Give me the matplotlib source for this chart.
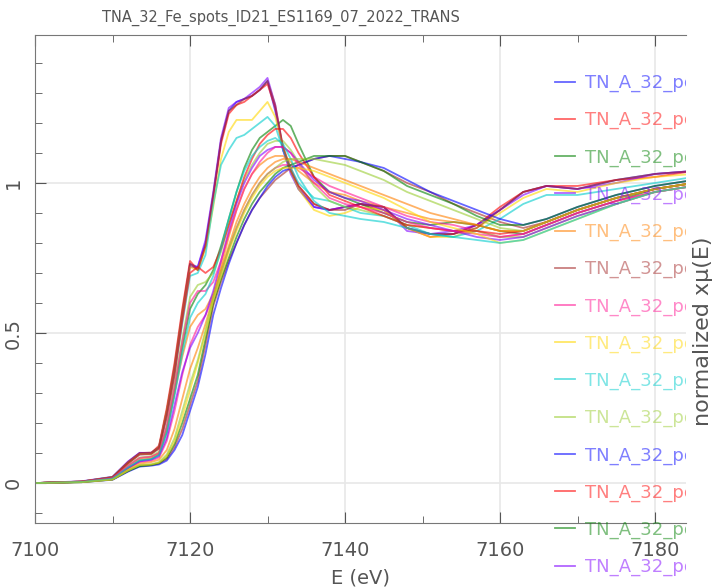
import matplotlib
matplotlib.use("Agg")
import matplotlib.pyplot as plt
from matplotlib.ticker import MultipleLocator, FuncFormatter
from matplotlib.transforms import Bbox, TransformedBbox

# energy grid (eV) and normalized spectra
energy = [7100, 7106, 7110, 7112, 7113.5, 7115, 7116, 7117, 7118, 7119,
          7120, 7121, 7122, 7123, 7124, 7125, 7126, 7127, 7128, 7129,
          7130, 7131, 7132, 7133, 7134, 7136, 7138, 7140, 7142, 7145,
          7148, 7151, 7154, 7157, 7160, 7163, 7166, 7170, 7175, 7180,
          7185]

red_a = [0.0, 0.005, 0.02, 0.07, 0.10, 0.10, 0.12, 0.24, 0.38, 0.56,
         0.73, 0.72, 0.80, 0.96, 1.14, 1.24, 1.27, 1.28, 1.29, 1.31,
         1.34, 1.24, 1.11, 1.04, 0.98, 0.92, 0.91, 0.92, 0.93, 0.92,
         0.85, 0.83, 0.83, 0.86, 0.91, 0.97, 0.99, 0.98, 1.01, 1.03,
         1.04]
red_b = [0.0, 0.004, 0.018, 0.065, 0.098, 0.10, 0.125, 0.25, 0.40, 0.58,
         0.74, 0.71, 0.79, 0.95, 1.13, 1.23, 1.26, 1.27, 1.29, 1.31,
         1.33, 1.25, 1.12, 1.05, 0.99, 0.93, 0.91, 0.92, 0.93, 0.91,
         0.85, 0.82, 0.83, 0.86, 0.92, 0.97, 0.99, 0.99, 1.01, 1.02,
         1.04]
mid_green = [0.0, 0.004, 0.015, 0.05, 0.075, 0.08, 0.095, 0.17, 0.30, 0.45,
             0.58, 0.63, 0.66, 0.71, 0.79, 0.88, 0.97, 1.05, 1.11, 1.15,
             1.17, 1.19, 1.21, 1.19, 1.13, 1.02, 0.97, 0.95, 0.93, 0.90,
             0.87, 0.86, 0.87, 0.86, 0.84, 0.83, 0.86, 0.90, 0.94, 0.98,
             1.00]
red_c = [0.0, 0.006, 0.021, 0.072, 0.101, 0.10, 0.118, 0.23, 0.37, 0.55,
         0.72, 0.72, 0.81, 0.97, 1.15, 1.25, 1.27, 1.28, 1.30, 1.32,
         1.35, 1.26, 1.11, 1.03, 0.98, 0.92, 0.91, 0.92, 0.93, 0.92,
         0.84, 0.83, 0.84, 0.86, 0.91, 0.96, 0.99, 0.98, 1.00, 1.03,
         1.04]
mid_orange = [0.0, 0.004, 0.016, 0.055, 0.08, 0.085, 0.10, 0.18, 0.30, 0.42,
              0.52, 0.56, 0.58, 0.63, 0.72, 0.82, 0.91, 0.98, 1.03, 1.06,
              1.08, 1.09, 1.09, 1.07, 1.04, 1.00, 0.97, 0.96, 0.94, 0.92,
              0.90, 0.88, 0.87, 0.86, 0.84, 0.84, 0.87, 0.91, 0.95, 0.98,
              1.00]
late_a = [0.0, 0.004, 0.012, 0.04, 0.058, 0.06, 0.065, 0.08, 0.12, 0.18,
          0.26, 0.34, 0.46, 0.59, 0.67, 0.74, 0.80, 0.86, 0.91, 0.95,
          0.98, 1.01, 1.03, 1.05, 1.06, 1.08, 1.09, 1.09, 1.07, 1.04,
          1.00, 0.97, 0.93, 0.90, 0.87, 0.85, 0.87, 0.91, 0.95, 0.98,
          1.00]
mid_pink = [0.0, 0.004, 0.014, 0.05, 0.07, 0.075, 0.085, 0.14, 0.24, 0.36,
            0.46, 0.52, 0.56, 0.62, 0.70, 0.78, 0.85, 0.91, 0.96, 1.00,
            1.03, 1.05, 1.06, 1.06, 1.05, 1.02, 0.99, 0.97, 0.95, 0.92,
            0.89, 0.87, 0.86, 0.84, 0.82, 0.83, 0.86, 0.90, 0.94, 0.97,
            0.99]
red_yellow = [0.0, 0.005, 0.02, 0.068, 0.097, 0.098, 0.12, 0.24, 0.38, 0.56,
              0.72, 0.71, 0.78, 0.92, 1.08, 1.17, 1.21, 1.21, 1.21, 1.24,
              1.27, 1.22, 1.12, 1.04, 0.98, 0.91, 0.89, 0.90, 0.92, 0.91,
              0.85, 0.82, 0.82, 0.85, 0.90, 0.95, 0.98, 0.97, 1.00, 1.02,
              1.03]
red_cyan = [0.0, 0.005, 0.02, 0.066, 0.095, 0.097, 0.115, 0.22, 0.36, 0.53,
            0.69, 0.70, 0.76, 0.93, 1.06, 1.11, 1.15, 1.16, 1.18, 1.20,
            1.22, 1.19, 1.11, 1.05, 1.00, 0.95, 0.94, 0.92, 0.90, 0.89,
            0.86, 0.83, 0.82, 0.84, 0.88, 0.93, 0.96, 0.96, 0.98, 1.00,
            1.02]
mid_olive = [0.0, 0.005, 0.017, 0.06, 0.085, 0.09, 0.105, 0.19, 0.33, 0.48,
             0.62, 0.66, 0.67, 0.70, 0.77, 0.86, 0.94, 1.01, 1.06, 1.10,
             1.13, 1.14, 1.14, 1.11, 1.07, 0.99, 0.94, 0.92, 0.91, 0.89,
             0.86, 0.85, 0.84, 0.84, 0.82, 0.82, 0.85, 0.89, 0.93, 0.97,
             0.99]
late_b = [0.0, 0.003, 0.011, 0.038, 0.055, 0.058, 0.062, 0.075, 0.11, 0.16,
          0.24, 0.32, 0.43, 0.56, 0.65, 0.73, 0.80, 0.86, 0.91, 0.95,
          0.99, 1.02, 1.04, 1.05, 1.06, 1.08, 1.09, 1.08, 1.07, 1.05,
          1.01, 0.97, 0.94, 0.91, 0.88, 0.86, 0.88, 0.92, 0.96, 0.99,
          1.01]
mid_red = [0.0, 0.005, 0.019, 0.066, 0.095, 0.097, 0.115, 0.22, 0.36, 0.54,
           0.70, 0.72, 0.70, 0.72, 0.78, 0.86, 0.94, 1.02, 1.08, 1.13,
           1.16, 1.18, 1.18, 1.15, 1.10, 1.02, 0.96, 0.94, 0.92, 0.89,
           0.86, 0.85, 0.84, 0.84, 0.83, 0.84, 0.87, 0.91, 0.95, 0.98,
           1.00]
late_c = [0.0, 0.003, 0.012, 0.04, 0.056, 0.06, 0.066, 0.085, 0.13, 0.20,
          0.28, 0.36, 0.48, 0.60, 0.68, 0.75, 0.82, 0.88, 0.93, 0.97,
          1.00, 1.03, 1.05, 1.06, 1.07, 1.09, 1.09, 1.09, 1.07, 1.04,
          0.99, 0.96, 0.93, 0.89, 0.86, 0.86, 0.88, 0.92, 0.96, 0.99,
          1.01]
mid_purple = [0.0, 0.004, 0.014, 0.05, 0.072, 0.078, 0.09, 0.15, 0.26, 0.37,
              0.45, 0.50, 0.56, 0.64, 0.74, 0.84, 0.93, 1.00, 1.05, 1.09,
              1.11, 1.12, 1.12, 1.10, 1.07, 1.01, 0.97, 0.95, 0.94, 0.91,
              0.88, 0.86, 0.84, 0.82, 0.81, 0.82, 0.85, 0.89, 0.93, 0.97,
              0.99]
late_d = [0.0, 0.004, 0.013, 0.045, 0.065, 0.07, 0.078, 0.11, 0.18, 0.28,
          0.38, 0.45, 0.53, 0.62, 0.71, 0.79, 0.87, 0.93, 0.98, 1.02,
          1.05, 1.07, 1.08, 1.08, 1.07, 1.05, 1.03, 1.01, 0.99, 0.96,
          0.93, 0.90, 0.88, 0.86, 0.84, 0.84, 0.87, 0.91, 0.95, 0.98,
          1.00]
red_d = [0.0, 0.005, 0.02, 0.07, 0.10, 0.102, 0.12, 0.24, 0.39, 0.57,
         0.73, 0.71, 0.79, 0.96, 1.14, 1.24, 1.26, 1.28, 1.29, 1.31,
         1.34, 1.26, 1.12, 1.04, 0.99, 0.93, 0.91, 0.91, 0.93, 0.92,
         0.85, 0.83, 0.83, 0.85, 0.91, 0.97, 0.99, 0.98, 1.01, 1.03,
         1.04]
mid_b = [0.0, 0.005, 0.017, 0.058, 0.084, 0.088, 0.10, 0.19, 0.32, 0.47,
         0.60, 0.64, 0.64, 0.67, 0.74, 0.83, 0.91, 0.98, 1.03, 1.07,
         1.10, 1.12, 1.12, 1.10, 1.06, 1.00, 0.95, 0.93, 0.92, 0.90,
         0.87, 0.85, 0.84, 0.83, 0.82, 0.83, 0.86, 0.90, 0.94, 0.97,
         0.99]
late_e = [0.0, 0.003, 0.012, 0.042, 0.06, 0.062, 0.068, 0.09, 0.14, 0.22,
          0.31, 0.40, 0.50, 0.61, 0.69, 0.77, 0.84, 0.90, 0.95, 0.99,
          1.02, 1.04, 1.05, 1.05, 1.05, 1.04, 1.02, 1.00, 0.98, 0.95,
          0.91, 0.87, 0.85, 0.83, 0.80, 0.81, 0.84, 0.88, 0.93, 0.97,
          0.99]
mid_c = [0.0, 0.004, 0.015, 0.052, 0.076, 0.08, 0.093, 0.17, 0.29, 0.43,
         0.55, 0.60, 0.63, 0.69, 0.78, 0.88, 0.97, 1.04, 1.09, 1.12,
         1.14, 1.15, 1.13, 1.08, 1.02, 0.94, 0.90, 0.89, 0.88, 0.87,
         0.85, 0.83, 0.82, 0.81, 0.80, 0.81, 0.84, 0.88, 0.93, 0.97,
         0.99]
late_f = [0.0, 0.003, 0.012, 0.042, 0.06, 0.063, 0.07, 0.095, 0.15, 0.24,
          0.33, 0.41, 0.51, 0.62, 0.70, 0.78, 0.85, 0.91, 0.96, 1.00,
          1.03, 1.05, 1.07, 1.08, 1.08, 1.08, 1.07, 1.06, 1.04, 1.01,
          0.97, 0.94, 0.91, 0.88, 0.85, 0.84, 0.87, 0.91, 0.95, 0.98,
          1.00]

spectra = [red_a, red_b, mid_green, red_c, mid_orange, late_a, mid_pink,
           red_yellow, red_cyan, mid_olive, late_b, mid_red, late_c,
           mid_purple, late_d, red_d, mid_b, late_e, mid_c, late_f]
labels = ["TN_A_32_pos%02d" % (i + 1) for i in range(len(spectra))]
colours = ['#0000ff', '#ff0000', '#008000', '#8000ff', '#ff8000',
           '#a52a2a', '#ff1493', '#ffd700', '#00cccc', '#9acd32']
grey = '#555555'

fig = plt.figure(figsize=(7.12, 5.87), dpi=100)
ax = fig.add_axes([35/712, 64/587, 651/712, 488/587])

for i, s in enumerate(spectra):
    ax.plot(energy, s, color=colours[i % len(colours)], lw=1.3, alpha=0.6,
            label=labels[i])

ax.set_xlim(7100, 7184)
ax.set_ylim(-0.133, 1.493)
ax.xaxis.set_major_locator(MultipleLocator(20))
ax.xaxis.set_minor_locator(MultipleLocator(10))
ax.yaxis.set_major_locator(MultipleLocator(0.5))
ax.yaxis.set_minor_locator(MultipleLocator(0.1))
ax.yaxis.set_major_formatter(FuncFormatter(lambda v, p: '%g' % v))
ax.grid(True, which='major', color='#e8e8e8', lw=1.2)
ax.set_axisbelow(True)
ax.tick_params(which='both', direction='in', top=True, right=False,
               color=grey, labelcolor=grey, labelsize=14)
ax.tick_params(which='major', length=8)
ax.tick_params(which='minor', length=5)
ax.tick_params(axis='x', pad=13)
ax.tick_params(axis='y', labelrotation=90, pad=9)
for t in ax.get_yticklabels():
    t.set_va('center')
for side in ['left', 'bottom', 'top']:
    ax.spines[side].set_color('#777777')
ax.spines['right'].set_visible(False)

ax.set_xlabel('E (eV)', fontsize=14, color=grey, labelpad=6)
fig.text(281/712, 1 - 18/587, 'TNA_32_Fe_spots_ID21_ES1169_07_2022_TRANS',
         ha='center', va='center', fontsize=10.5, color=grey)
fig.text(703/712, 1 - 331/587, 'normalized x\u03bc(E)', rotation=90,
         ha='center', va='center', fontsize=16, color=grey)

leg = ax.legend(loc='upper left', bbox_to_anchor=(555/712, 1 - 74/587),
                bbox_transform=fig.transFigure, frameon=False, fontsize=13,
                handlelength=1.1, handletextpad=0.55, labelspacing=1.05,
                borderpad=0, borderaxespad=0)
clip = TransformedBbox(Bbox.from_extents(0, 0, 686/712, 1), fig.transFigure)
for t, h in zip(leg.get_texts(), leg.legend_handles):
    t.set_color(h.get_color())
    t.set_alpha(0.5)
    t.set_clip_box(clip)
    t.set_clip_on(True)

fig.savefig('out.png', dpi=100)
